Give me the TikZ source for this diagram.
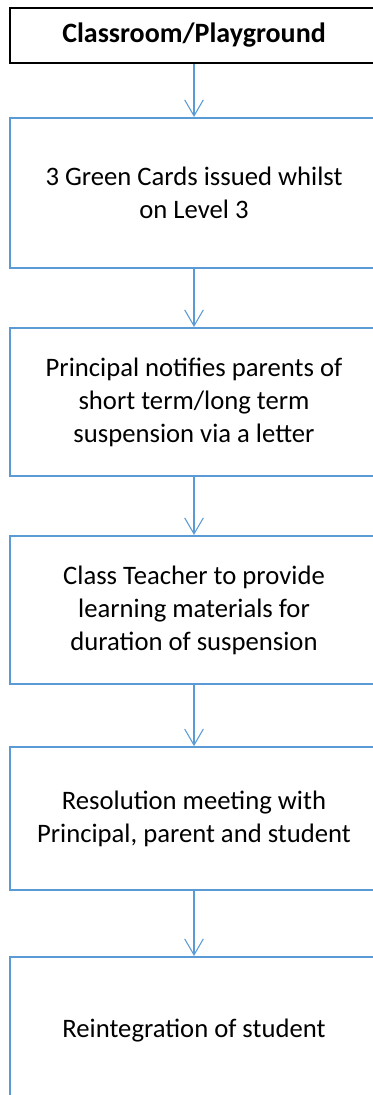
\documentclass[tikz,border=0pt]{standalone}
\usepackage{fontspec}
\setmainfont{Carlito}
\usepackage{xcolor}
\usepackage{tikz}
\usetikzlibrary{arrows.meta}
\definecolor{flowblue}{RGB}{91,155,213}

\begin{document}
\begin{tikzpicture}[x=0.75pt, y=-0.75pt,
    every node/.style={font=\fontsize{20}{24.75}\selectfont, align=center},
    flowbox/.style={rectangle, draw=flowblue, line width=1.6pt, minimum width=276pt},
    flowarrow/.style={draw=flowblue, line width=0.8pt, -{Straight Barb[length=12pt, width=14pt]}}]
            \useasboundingbox (0,0) rectangle (373,1095);
            \clip (0,0) rectangle (373,1095);
            \node[rectangle, draw, line width=1.5pt, minimum width=276pt, minimum height=41pt, font=\fontsize{21}{25}\selectfont\bfseries] at (194, 35.5) (start) {Classroom/Playground};
            \node[flowbox, minimum height=112.5pt] at (194, 193)    (cards)   {3 Green Cards issued whilst\\on Level 3};
            \node[flowbox, minimum height=111pt]   at (194, 402)    (letter)  {Principal notifies parents of\\short term/long term\\suspension via a letter};
            \node[flowbox, minimum height=111pt]   at (194, 610)    (work)    {Class Teacher to provide\\learning materials for\\duration of suspension};
            \node[flowbox, minimum height=107pt]   at (194, 818.5)  (meeting) {Resolution meeting with\\Principal, parent and student};
            \node[flowbox, minimum height=111pt]   at (194, 1031)   (return)  {Reintegration of student};
            \draw[flowarrow] (start) -- (cards);
            \draw[flowarrow] (cards) -- (letter);
            \draw[flowarrow] (letter) -- (work);
            \draw[flowarrow] (work) -- (meeting);
            \draw[flowarrow] (meeting) -- (return);
        \end{tikzpicture}
\end{document}
